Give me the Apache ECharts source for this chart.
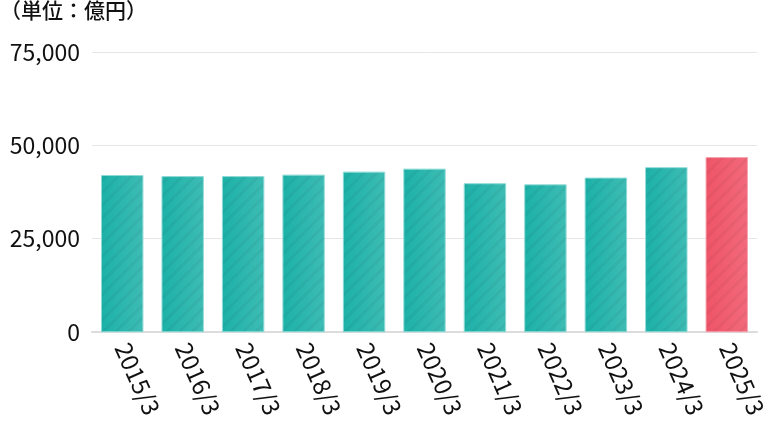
<!DOCTYPE html>
<html>
<head>
<meta charset="utf-8">
<script src="https://cdn.jsdelivr.net/npm/echarts@6/dist/echarts.min.js"></script>
<style>
  html, body { margin: 0; padding: 0; background: #fff; }
  #main { width: 783px; height: 422px; }
</style>
</head>
<body>
<div id="main"></div>
<script>
// 決算期
var categories = ["2015/3", "2016/3", "2017/3", "2018/3", "2019/3", "2020/3", "2021/3", "2022/3", "2023/3", "2024/3", "2025/3"];
// 売上（億円）
var values = [42000, 41700, 41700, 42100, 42900, 43700, 39800, 39500, 41300, 44100, 46800];
var yTicks = [0, 25000, 50000, 75000];

var FONT = '"Noto Sans CJK JP", "Noto Sans", sans-serif';

function barColor(base, light) {
    return {
        type: "linear", x: 0, y: 0, x2: 1, y2: 0,
        colorStops: [{ offset: 0, color: base }, { offset: 1, color: light }]
    };
}
var stripes = {
    symbol: "rect",
    color: "rgba(0,0,0,0.045)",
    dashArrayX: [1, 0],
    dashArrayY: [3, 6],
    rotation: -Math.PI / 4
};

var data = values.map(function (v, i) {
    var last = i === values.length - 1;
    return {
        value: v,
        itemStyle: {
            color: last ? barColor("#ef5468", "#f26a7b") : barColor("#1cb1a8", "#3dbcb4"),
            borderColor: last ? "#f7a3ae" : "#8fdcd6",
            borderWidth: 0.6,
            decal: stripes
        }
    };
});

var myChart = echarts.init(document.getElementById("main"));
myChart.setOption({
    animation: false,
    graphic: [{
        type: "text",
        left: 0,
        top: 0,
        style: { text: "（単位：億円）", font: "500 21px " + FONT, fill: "#111" }
    }],
    grid: { left: 92, right: 26, top: 52, bottom: 90 },
    xAxis: {
        type: "category",
        data: categories,
        axisTick: { show: false },
        axisLine: { lineStyle: { color: "#dcdcdc", width: 2 } },
        axisLabel: {
            rotate: -66,
            margin: 12,
            fontSize: 24,
            fontFamily: FONT,
            color: "#111"
        }
    },
    yAxis: {
        type: "value",
        min: 0,
        max: 75000,
        interval: 25000,
        axisLine: { show: false },
        axisTick: { show: false },
        splitLine: { lineStyle: { color: "#e6e6e6", width: 1 } },
        axisLabel: {
            margin: 12,
            fontSize: 23,
            fontFamily: FONT,
            color: "#111",
            formatter: function (v) { return yTicks.indexOf(v) >= 0 ? v.toLocaleString("en-US") : ""; }
        }
    },
    series: [{
        type: "bar",
        data: data,
        barWidth: 42
    }]
});
</script>
</body>
</html>
